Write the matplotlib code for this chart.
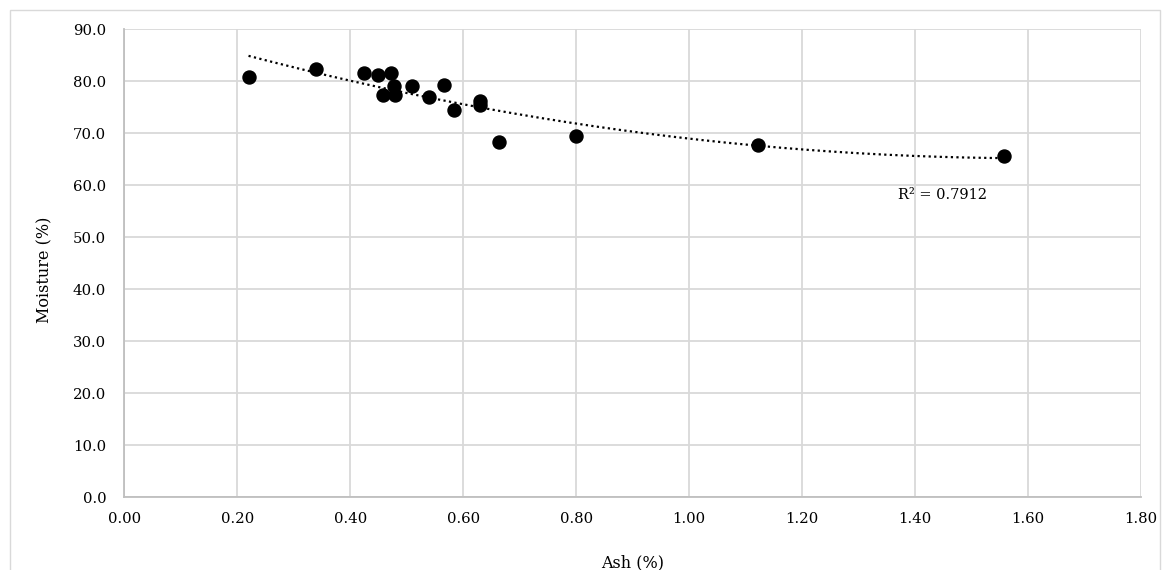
import matplotlib.pyplot as plt
import numpy as np
from matplotlib.patches import Rectangle

# Ash (%) vs Moisture (%)
ash = [0.22, 0.34, 0.424, 0.450, 0.472, 0.477, 0.458, 0.480, 0.510, 0.540,
       0.566, 0.584, 0.630, 0.630, 0.663, 0.800, 1.122, 1.557]
moisture = [80.8, 82.4, 81.5, 81.2, 81.5, 79.1, 77.4, 77.4, 79.0, 77.0,
            79.2, 74.5, 76.2, 75.4, 68.4, 69.5, 67.8, 65.7]
r2_label = "R² = 0.7912"

plt.rcParams['font.family'] = ['DejaVu Serif']

fig = plt.figure(figsize=(11.69, 5.70), dpi=100)
ax = fig.add_axes([0.1063, 0.128, 0.8697, 0.8206])

# outer chart frame
fig.patches.append(Rectangle((10 / 1169, -0.05), 1150 / 1169, 1.05 - 10 / 570,
                             transform=fig.transFigure, fill=False,
                             edgecolor='#d9d9d9', linewidth=1))

ax.scatter(ash, moisture, s=88, color='black', zorder=3)

# polynomial (order 2) trendline
coef = np.polyfit(ash, moisture, 2)
xs = np.linspace(min(ash), max(ash), 200)
ax.plot(xs, np.polyval(coef, xs), color='black', linestyle=(0, (1, 1.5)),
        linewidth=1.6, zorder=2)

ax.text(1.449, 58.1, r2_label, ha='center', va='center', fontsize=10.5)

ax.set_xlim(0, 1.8)
ax.set_ylim(0, 90)
ax.set_xticks(np.arange(0, 1.81, 0.2))
ax.set_yticks(np.arange(0, 91, 10))
ax.set_xticklabels(["%.2f" % v for v in np.arange(0, 1.81, 0.2)])
ax.set_yticklabels(["%.1f" % v for v in np.arange(0, 91, 10)])
ax.tick_params(length=0, labelsize=10.7)
ax.tick_params(axis='x', pad=11)
ax.tick_params(axis='y', pad=13)

ax.grid(True, color='#d9d9d9', linewidth=1.3)
ax.set_axisbelow(True)
for s in ['top', 'right']:
    ax.spines[s].set_visible(False)
for s in ['left', 'bottom']:
    ax.spines[s].set_color('#bfbfbf')
    ax.spines[s].set_linewidth(1.3)

ax.set_xlabel("Ash (%)", fontsize=11.5)
ax.set_ylabel("Moisture (%)", fontsize=11.5)
ax.xaxis.set_label_coords(0.5, -0.141)
ax.xaxis.label.set_va('center')
ax.yaxis.set_label_coords(-0.078, 0.485)
ax.yaxis.label.set_va('center')

fig.savefig("out.png", dpi=100)
